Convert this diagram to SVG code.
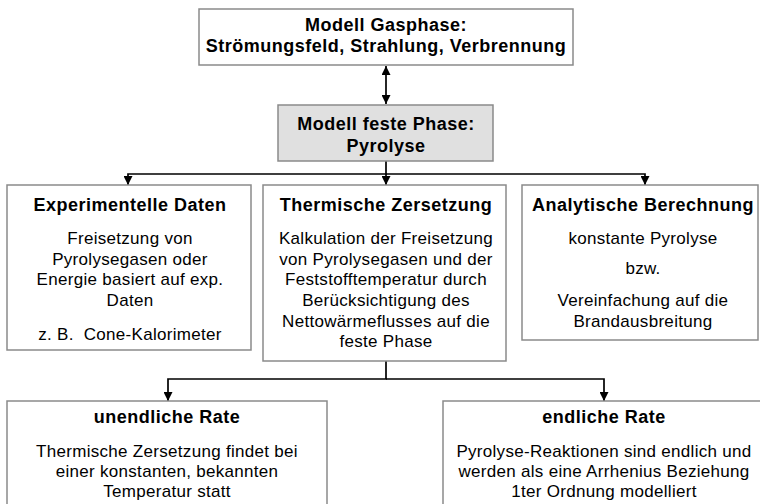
<svg xmlns="http://www.w3.org/2000/svg" width="760" height="504" viewBox="0 0 760 504">
<style>
.box{fill:#ffffff;stroke:#8a8a8a;stroke-width:1.5}
.grey{fill:#e0e0e0;stroke:#8a8a8a;stroke-width:1.5}
.t{font-family:"Liberation Sans",Arial,sans-serif;font-size:18px;font-weight:bold;letter-spacing:0.5px;fill:#000;text-anchor:middle}
.b{font-family:"Liberation Sans",Arial,sans-serif;font-size:17px;letter-spacing:0.3px;fill:#000;text-anchor:middle}
.c{fill:none;stroke:#000;stroke-width:1.7}
</style>
<defs>
<marker id="ah" viewBox="0 0 10 10" refX="10" refY="5" markerWidth="10" markerHeight="9" markerUnits="userSpaceOnUse" orient="auto-start-reverse">
<path d="M0,0 L10,5 L0,10 z" fill="#000"/>
</marker>
</defs>
<rect width="760" height="504" fill="#ffffff"/>
<g id="connectors">
<path class="c" d="M386,66 V104" marker-start="url(#ah)" marker-end="url(#ah)"/>
<path class="c" d="M386,161 V174 H128 V185" marker-end="url(#ah)"/>
<path class="c" d="M386,174 H645 V185" marker-end="url(#ah)"/>
<path class="c" d="M386,174 V185" marker-end="url(#ah)"/>
<path class="c" d="M386,361 V379 H168 V401" marker-end="url(#ah)"/>
<path class="c" d="M386,379 H604 V401" marker-end="url(#ah)"/>
</g>
<g id="gasphase">
<rect class="box" x="199" y="9" width="374" height="56"/>
<text class="t" x="386" y="31">Modell Gasphase:</text>
<text class="t" x="386" y="52">Strömungsfeld, Strahlung, Verbrennung</text>
</g>
<g id="festephase">
<rect class="grey" x="278" y="105" width="215" height="56"/>
<text class="t" x="386" y="130">Modell feste Phase:</text>
<text class="t" x="386" y="152">Pyrolyse</text>
</g>
<g id="experimentell">
<rect class="box" x="7" y="185" width="244" height="165"/>
<text class="t" x="130" y="211">Experimentelle Daten</text>
<text class="b" x="130" y="244">Freisetzung von</text>
<text class="b" x="130" y="264.7">Pyrolysegasen oder</text>
<text class="b" x="130" y="285.3">Energie basiert auf exp.</text>
<text class="b" x="130" y="306">Daten</text>
<text class="b" x="130" y="340" xml:space="preserve">z. B.  Cone-Kalorimeter</text>
</g>
<g id="thermisch">
<rect class="box" x="263" y="185" width="243" height="176"/>
<text class="t" x="386" y="211">Thermische Zersetzung</text>
<text class="b" x="386" y="244">Kalkulation der Freisetzung</text>
<text class="b" x="386" y="264.7">von Pyrolysegasen und der</text>
<text class="b" x="386" y="285.3">Feststofftemperatur durch</text>
<text class="b" x="386" y="306">Berücksichtigung des</text>
<text class="b" x="386" y="326.7">Nettowärmeflusses auf die</text>
<text class="b" x="386" y="347.3">feste Phase</text>
</g>
<g id="analytisch">
<rect class="box" x="522" y="185" width="236" height="155"/>
<text class="t" x="643" y="211">Analytische Berechnung</text>
<text class="b" x="643" y="244">konstante Pyrolyse</text>
<text class="b" x="643" y="274">bzw.</text>
<text class="b" x="643" y="306">Vereinfachung auf die</text>
<text class="b" x="643" y="326.7">Brandausbreitung</text>
</g>
<g id="unendlich">
<rect class="box" x="7" y="401" width="320" height="110"/>
<text class="t" x="167" y="423">unendliche Rate</text>
<text class="b" x="167" y="456.7">Thermische Zersetzung findet bei</text>
<text class="b" x="167" y="476.7">einer konstanten, bekannten</text>
<text class="b" x="167" y="496.7">Temperatur statt</text>
</g>
<g id="endlich">
<rect class="box" x="443" y="401" width="322" height="110"/>
<text class="t" x="604" y="423">endliche Rate</text>
<text class="b" x="604" y="456.7">Pyrolyse-Reaktionen sind endlich und</text>
<text class="b" x="604" y="476.7">werden als eine Arrhenius Beziehung</text>
<text class="b" x="604" y="496.7">1ter Ordnung modelliert</text>
</g>
</svg>
